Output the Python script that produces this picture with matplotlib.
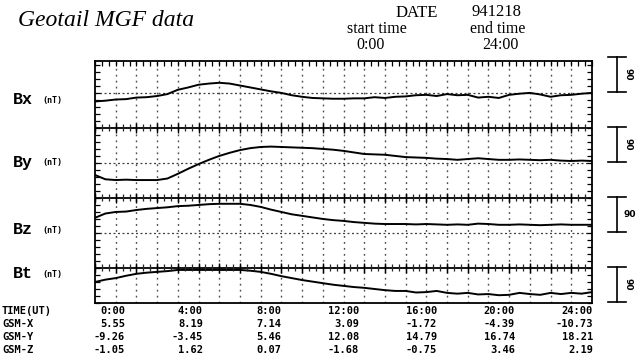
import numpy as np
import matplotlib
matplotlib.use("Agg")
import matplotlib.pyplot as plt

# ---------------- data ----------------
hours = np.arange(0, 24.01, 0.5)

bx = [-22, -20, -17, -16, -12, -11, -8, -3, 8, 14, 21, 24, 26, 24, 19, 14, 9, 4, 0, -6,
      -10, -13, -14, -15, -15, -14, -14, -11, -13, -10, -9, -6, -5, -8, -3, -6, -5, -12,
      -10, -13, -5, -2, 0, -4, -10, -6, -5, -2, 0]
by = [-31, -42, -44, -43, -44, -44, -44, -40, -28, -15, -3, 8, 18, 26, 33, 38, 41, 42, 41,
      40, 39, 38, 36, 34, 31, 27, 23, 22, 21, 18, 15, 14, 13, 11, 10, 8, 10, 12, 10, 8, 8,
      9, 8, 7, 8, 6, 5, 6, 5]
bz = [39, 50, 54, 55, 59, 62, 64, 66, 69, 70, 72, 74, 75, 75, 75, 72, 67, 60, 54, 48, 44,
      40, 36, 33, 31, 28, 26, 24, 23, 23, 23, 22, 23, 22, 21, 22, 21, 24, 23, 21, 21, 22,
      21, 20, 21, 22, 21, 21, 21]
bt = [54, 60, 64, 70, 75, 78, 80, 82, 85, 85, 85, 85, 85, 85, 85, 83, 80, 75, 69, 64, 59,
      55, 51, 47, 44, 41, 39, 36, 33, 31, 31, 27, 28, 31, 26, 24, 26, 22, 23, 20, 21, 26,
      23, 21, 26, 23, 26, 24, 28]

panel_names = ["Bx", "By", "Bz", "Bt"]
panel_units = ["(nT)", "(nT)", "(nT)", "(nT)"]
scale_label = "90"

table_rows = ["TIME(UT)", "GSM-X", "GSM-Y", "GSM-Z"]
table_time = ["0:00", "4:00", "8:00", "12:00", "16:00", "20:00", "24:00"]
gsm_x = ["5.55", "8.19", "7.14", "3.09", "-1.72", "-4.39", "-10.73"]
gsm_y = ["-9.26", "-3.45", "5.46", "12.08", "14.79", "16.74", "18.21"]
gsm_z = ["-1.05", "1.62", "0.07", "-1.68", "-0.75", "3.46", "2.19"]

title = "Geotail MGF data"
date_label, date_value = "DATE", "941218"
start_label, end_label = "start time", "end time"
start_value, end_value = "0:00", "24:00"

# ---------------- layout ----------------
W, H = 637, 363
fig = plt.figure(figsize=(W / 100, H / 100), dpi=100)
fig.patch.set_facecolor("white")

def fx(px):
    return px / W

def fy(py):
    return 1 - py / H

L, R, T, B = 95, 592, 61, 303
ax = fig.add_axes([fx(L), fy(B), fx(R) - fx(L), fy(T) - fy(B)])
ax.set_xlim(0, 24)
ax.set_ylim(0, 622)

offsets = [540, 360, 180, 0]   # zero level of each panel

# vertical hourly dotted grid
for h in range(1, 24):
    ax.axvline(h, color="0.3", lw=1.0, ls=(0, (1.3, 3.0)), zorder=1)
# horizontal dotted zero lines
for off in offsets[:3]:
    ax.axhline(off, color="0.25", lw=0.9, ls=(0, (1.6, 2.0)), zorder=1)
# solid separator lines with small ticks
tick_x = np.arange(0, 24.01, 1 / 3)
for off in offsets[:3]:
    base = off - 90
    ax.axhline(base, color="black", lw=1.3, zorder=2)
    ax.vlines(tick_x, base - 9, base + 9, color="0.15", lw=0.9, zorder=4)
    ax.vlines(np.arange(0, 24.01, 1), base - 13, base + 13, color="black", lw=1.0, zorder=4)

# traces
for vals, off in zip([bx, by, bz, bt], offsets):
    ax.plot(hours, np.asarray(vals) + off, color="black", lw=1.4, zorder=3)

# frame & ticks
for s in ax.spines.values():
    s.set_linewidth(1.3)
ax.set_xticks(np.arange(0, 24.01, 1 / 3), minor=True)
ax.set_xticks([])
ax.set_yticks(np.arange(0, 622, 18), minor=True)
ax.set_yticks([])
ax.tick_params(which="minor", direction="in", length=3.5, width=0.9,
               top=True, bottom=False, left=True, right=True,
               labelbottom=False, labelleft=False)

# scale bars (90 nT)
xb = 25.2
for i, off in enumerate(offsets):
    lo, hi = off + 2, off + 92
    ax.plot([xb, xb], [lo, hi], color="black", lw=1.2, clip_on=False)
    ax.plot([xb - 0.45, xb + 0.45], [lo, lo], color="black", lw=1.2, clip_on=False)
    ax.plot([xb - 0.45, xb + 0.45], [hi, hi], color="black", lw=1.2, clip_on=False)
    rot = 0 if i == 2 else -90
    ax.text(xb + 0.3, (lo + hi) / 2, scale_label, rotation=rot, fontsize=6.5,
            fontweight="bold", ha="left", va="center", clip_on=False,
            family="DejaVu Sans")

# panel labels
label_y = [99, 162, 229, 274]
for name, unit, py in zip(panel_names, panel_units, label_y):
    fig.text(fx(13), fy(py), name, fontsize=12, fontweight="bold",
             family=["Liberation Mono", "DejaVu Sans Mono"], ha="left", va="center")
    fig.text(fx(42), fy(py + 1), unit, fontsize=6, fontweight="bold",
             family="DejaVu Sans Mono", ha="left", va="center")

# header
fig.text(fx(18), fy(20), title, fontsize=17, style="italic",
         family="Liberation Serif", ha="left", va="center")
fig.text(fx(417), fy(13), date_label, fontsize=12, family="Liberation Serif",
         ha="center", va="center")
fig.text(fx(497), fy(12), date_value, fontsize=12, family="Liberation Serif",
         ha="center", va="center")
fig.text(fx(377), fy(29), start_label, fontsize=11.5, family="Liberation Serif",
         ha="center", va="center")
fig.text(fx(498), fy(29), end_label, fontsize=11.5, family="Liberation Serif",
         ha="center", va="center")
fig.text(fx(371), fy(45), start_value, fontsize=11.5, family="Liberation Serif",
         ha="center", va="center")
fig.text(fx(500), fy(45), end_value, fontsize=11.5, family="Liberation Serif",
         ha="center", va="center")

# bottom table
row_y = [311, 324, 337, 350]
col_right = [125, 203, 281, 359, 437, 515, 593]
for ry, lab, vals in zip(row_y, table_rows, [table_time, gsm_x, gsm_y, gsm_z]):
    fig.text(fx(2), fy(ry), lab, fontsize=7.5, fontweight="bold",
             family="DejaVu Sans Mono", ha="left", va="center")
    for cx, v in zip(col_right, vals):
        fig.text(fx(cx), fy(ry), v, fontsize=7.5, fontweight="bold",
                 family="DejaVu Sans Mono", ha="right", va="center")

fig.savefig("out.png", dpi=100, facecolor="white")
